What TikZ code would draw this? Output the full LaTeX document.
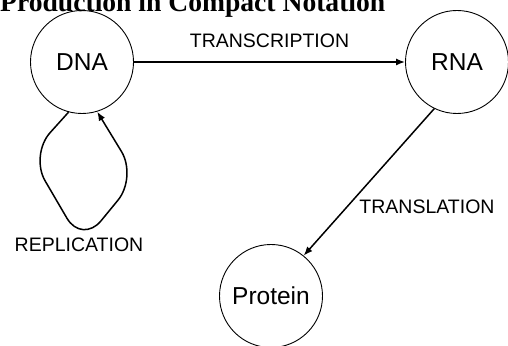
\documentclass[tikz,border=0pt]{standalone}
\usepackage{fontspec}
\setmainfont{Liberation Serif}
\newfontfamily\labelfont{Liberation Sans}
\usetikzlibrary{arrows.meta}

\begin{document}
\begin{tikzpicture}[x=1pt, y=1pt,
		molecule/.style={draw, circle, line width=0.9pt, minimum size=103pt, inner sep=0pt, font=\labelfont\fontsize{24.5}{28}\selectfont},
		process/.style={font=\labelfont\fontsize{19.5}{22}\selectfont},
		flow/.style={line width=1.5pt, -{Latex[length=9pt, width=7pt]}}]
			\useasboundingbox (0,0) rectangle (508,345);
			\clip (0,0) rectangle (508,345);
			\node[anchor=base west, font=\bfseries\fontsize{27.6}{30}\selectfont, inner sep=0pt] (title) at (0,333) {Production in Compact Notation};
			
			\node[molecule] (dna) at (82,283) {DNA};
			\node[molecule] (rna) at (457,283) {RNA};
			\node[molecule] (protein) at (271,49) {Protein};
			
			\draw[flow] (dna) -- (rna) node[midway, above=10pt, process] (transcription) {TRANSCRIPTION};
			\draw[flow] (rna.-116) -- (protein.51);
			\node[process] (translation) at (427,138) {TRANSLATION};
			\draw[flow, rounded corners=30pt] (dna.-105) -- (30,190) -- (82,101) -- (137,168) -- (dna.-73);
			\node[process] (replication) at (79,100) {REPLICATION};
		\end{tikzpicture}
\end{document}
